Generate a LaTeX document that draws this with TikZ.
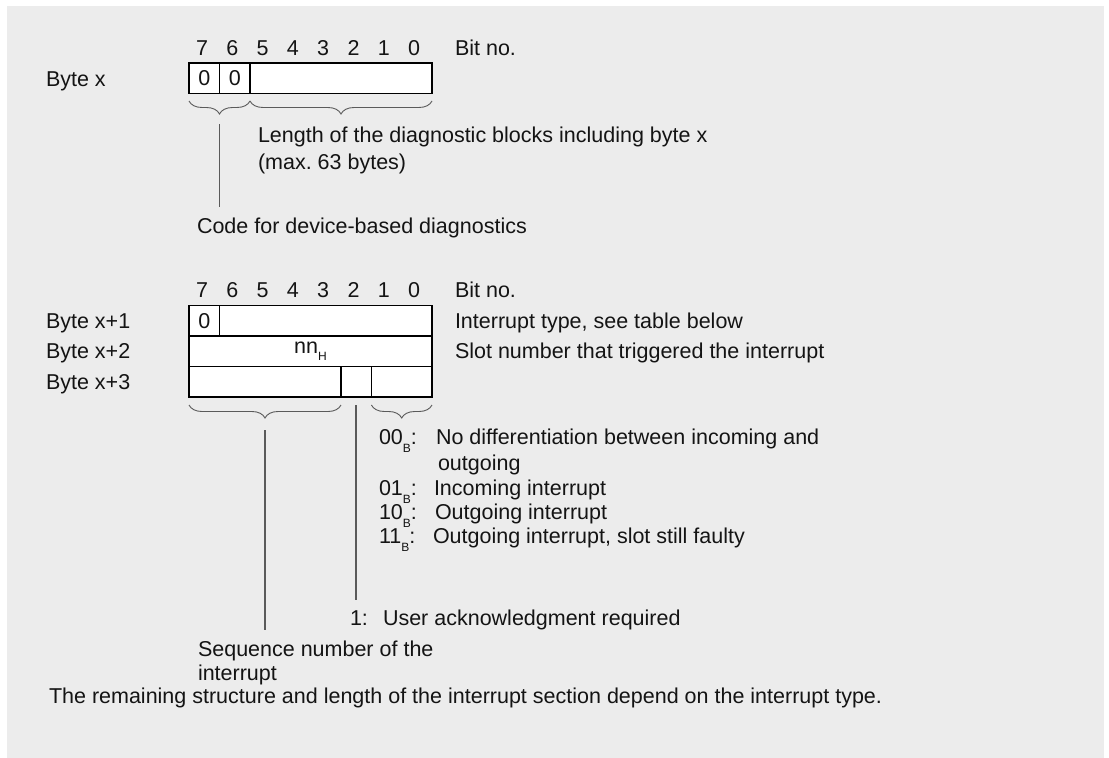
\documentclass[tikz,border=0pt]{standalone}
\usepackage{fontspec}
\setmainfont{Liberation Sans}
\usetikzlibrary{decorations.pathreplacing}
\definecolor{bggray}{RGB}{236,236,236}
\definecolor{txtcol}{RGB}{20,20,20}
\definecolor{linecol}{RGB}{90,90,90}
\newcommand\myfs{\fontsize{21.5}{25}\selectfont}
\newcommand\mysub[1]{\raisebox{-7.5pt}{\fontsize{12}{12}\selectfont #1}}
\frenchspacing
\begin{document}
\begin{tikzpicture}[x=1pt,y=-1pt,
  txt/.style={anchor=west,inner sep=0pt,outer sep=0pt,text height=15pt,text depth=0pt,font=\myfs,text=txtcol},
  dig/.style={anchor=center,inner sep=0pt,outer sep=0pt,text height=15pt,text depth=0pt,font=\myfs,text=txtcol},
  cell/.style={draw=black,fill=white,line width=1.3pt,minimum height=30.5pt,inner sep=0pt,outer sep=0pt,anchor=north west,font=\myfs,text=txtcol},
  brc/.style={decorate,decoration={brace,mirror,amplitude=13pt},draw=linecol,line width=0.9pt},
  conn/.style={draw=linecol,line width=1.2pt}]
\useasboundingbox (0,0) rectangle (1109,758);
\fill[white] (0,0) rectangle (1109,758);
\fill[bggray] (7,6) rectangle (1104,758);

% ---------- Byte x ----------
\foreach \d [count=\i from 0] in {7,6,5,4,3,2,1,0}
  \node[dig] (ta\d) at ({202+30.3*\i},48) {\d};
\node[txt] (bitnoA) at (455,48) {Bit no.};
\node[txt] (bytex) at (46,79) {Byte x};
\node[cell,minimum width=30.5pt] (bx7) at (189,63) {0};
\node[cell,minimum width=30.5pt] (bx6) at (219.5,63) {0};
\node[cell,minimum width=182pt] (bxr) at (250,63) {};

\draw[brc] (189,101) -- (250,101);
\draw[brc] (250,101) -- (432,101);
\coordinate (tipA) at (219.5,124);
\coordinate (endA) at (219.5,207);
\draw[conn] (tipA) -- (endA);

\node[txt] (len1) at (258,135) {Length of the diagnostic blocks including byte x};
\node[txt] (len2) at (258,162) {(max. 63 bytes)};
\node[txt] (code) at (197,226) {Code for device-based diagnostics};

% ---------- Bytes x+1 .. x+3 ----------
\foreach \d [count=\i from 0] in {7,6,5,4,3,2,1,0}
  \node[dig] (tb\d) at ({202+30.3*\i},290) {\d};
\node[txt] (bitnoB) at (455,290) {Bit no.};

\node[txt] (b1) at (46,321) {Byte x+1};
\node[txt] (b2) at (46,351) {Byte x+2};
\node[txt] (b3) at (46,382) {Byte x+3};

\node[cell,minimum width=30.5pt] (r1a) at (189,305.5) {0};
\node[cell,minimum width=212.5pt] (r1b) at (219.5,305.5) {};
\node[cell,minimum width=243pt] (r2) at (189,336) {nn\mysub{H}};
\node[cell,minimum width=152pt] (r3a) at (189,366.5) {};
\node[cell,minimum width=30.4pt] (r3b) at (341,366.5) {};
\node[cell,minimum width=60.6pt] (r3c) at (371.4,366.5) {};

\node[txt] (itype) at (455,321) {Interrupt type, see table below};
\node[txt] (slot) at (455,351) {Slot number that triggered the interrupt};

\draw[brc] (189,405) -- (341,405);
\draw[brc] (371.4,405) -- (432,405);

\coordinate (tipS) at (265,430);
\coordinate (endS) at (265,630);
\draw[conn] (tipS) -- (endS);
\coordinate (topK) at (356,405);
\coordinate (endK) at (356,600);
\draw[conn] (topK) -- (endK);

\node[txt] (c00) at (379,437) {00\mysub{B}:};
\node[txt] (d00) at (436,437) {No differentiation between incoming and};
\node[txt] (d00b) at (438,463) {outgoing};
\node[txt] (c01) at (379,488) {01\mysub{B}:};
\node[txt] (d01) at (434,488) {Incoming interrupt};
\node[txt] (c10) at (379,512) {10\mysub{B}:};
\node[txt] (d10) at (435,512) {Outgoing interrupt};
\node[txt] (c11) at (379,536) {11\mysub{B}:};
\node[txt] (d11) at (433,536) {Outgoing interrupt, slot still faulty};

\node[txt] (ack1) at (350,618) {1:};
\node[txt] (ack2) at (383,618) {User acknowledgment required};

\node[txt] (seq1) at (198,649) {Sequence number of the};
\node[txt] (seq2) at (198,673) {interrupt};
\node[txt] (rem) at (49,696) {The remaining structure and length of the interrupt section depend on the interrupt type.};
\end{tikzpicture}
\end{document}
